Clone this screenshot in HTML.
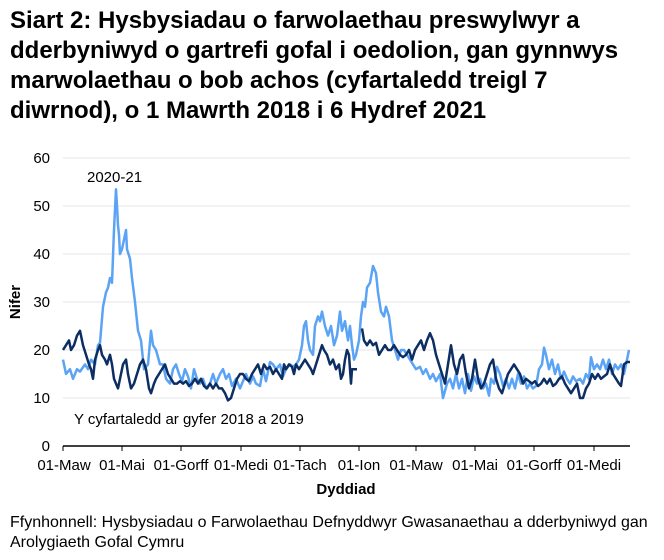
<!DOCTYPE html>
<html><head><meta charset="utf-8"><style>
body{margin:0;background:#fff;width:664px;height:560px;overflow:hidden;font-family:"Liberation Sans",Arial,sans-serif;}
.t{position:absolute;left:10px;top:6px;font-weight:bold;font-size:24px;line-height:30px;color:#000;width:620px;}
.f{position:absolute;left:10px;top:513px;font-size:16px;line-height:20px;color:#000;white-space:nowrap;}
svg{position:absolute;left:0;top:0;}
</style></head><body>
<div class="t">Siart 2: Hysbysiadau o farwolaethau preswylwyr a dderbyniwyd o gartrefi gofal i oedolion, gan gynnwys marwolaethau o bob achos (cyfartaledd treigl 7 diwrnod), o 1 Mawrth 2018 i 6 Hydref 2021</div>
<svg width="664" height="560" id="s" font-family="Liberation Sans, Arial, sans-serif">
<g stroke="#e6e6e6" stroke-width="1">
<line x1="63" x2="630" y1="158" y2="158"/><line x1="63" x2="630" y1="206" y2="206"/><line x1="63" x2="630" y1="254" y2="254"/><line x1="63" x2="630" y1="302" y2="302"/><line x1="63" x2="630" y1="350" y2="350"/><line x1="63" x2="630" y1="398" y2="398"/>
</g>
<g font-size="15" fill="#000" text-anchor="end">
<text x="50" y="163">60</text><text x="50" y="211">50</text><text x="50" y="259">40</text><text x="50" y="307">30</text><text x="50" y="355">20</text><text x="50" y="403">10</text><text x="50" y="451">0</text>
</g>
<text transform="translate(20,302) rotate(-90)" font-size="15" font-weight="bold" text-anchor="middle">Nifer</text>
<line x1="63" x2="630" y1="446" y2="446" stroke="#000" stroke-width="1.5"/>
<g stroke="#000" id="tk"></g>
<g font-size="15" text-anchor="middle">
<text x="64" y="470">01-Maw</text><text x="122" y="470">01-Mai</text><text x="181" y="470">01-Gorff</text><text x="241" y="470">01-Medi</text><text x="300" y="470">01-Tach</text><text x="359" y="470">01-Ion</text><text x="416" y="470">01-Maw</text><text x="475" y="470">01-Mai</text><text x="534" y="470">01-Gorff</text><text x="594" y="470">01-Medi</text>
</g>
<text x="346" y="494" font-size="15" font-weight="bold" text-anchor="middle">Dyddiad</text>
<text x="87" y="182" font-size="15">2020-21</text>
<text x="74" y="424" font-size="15">Y cyfartaledd ar gyfer 2018 a 2019</text>
<polyline id="l" fill="none" stroke="#5ba3f5" stroke-width="2.5" stroke-linejoin="round"/>
<polyline id="d1" fill="none" stroke="#0d2e63" stroke-width="2.5" stroke-linejoin="round"/>
<polyline id="d2" fill="none" stroke="#0d2e63" stroke-width="2.5" stroke-linejoin="round"/>
</svg>
<div class="f">Ffynhonnell: Hysbysiadau o Farwolaethau Defnyddwyr Gwasanaethau a dderbyniwyd gan<br>Arolygiaeth Gofal Cymru</div>
<script>
function P(a){var s=[];for(var i=0;i<a.length;i+=2)s.push(a[i]+","+(446-4.8*a[i+1]).toFixed(1));return s.join(" ");}
var L=[63,18,66,15,70,16,73,14,77,16,80,15.5,85,17,88,16,91,18,95,17,98,21,100,21.5,103,29,106,32,108,33,110,35,112,34,114,45,116,53.5,117,50,118,46,119,44,120,40,122,41,124,43,126,45,127,41,130,39,132,35,135,30,138,24,141,22,144,16,148,17,151,24,153,21,156,20,160,17,163,17,166,14,170,13,173,16,176,17,179,15,182,13.5,185,16,188,14.5,191,12,194,16,197,14,200,13,203,14,206,12,210,13,213,15,216,13,220,15,223,16,226,14,229,15,232,12.5,236,14,240,12,243,13.5,246,15,250,13,253,14.5,256,13,260,12.5,263,16,266,13.5,270,17.5,273,17,276,16,280,17,283,14.5,286,16,290,17,293,16.5,296,17,299,18,302,21,304,25,306,26,308,22,310,20,313,19,315,25,318,27,320,26,322,28,325,25,328,23,331,25,334,21,337,23,340,28,342,24,345,26,348,22,350,25,352,21,354,18,356,19,359,22,361,27,363,30,365,29,367,33,370,34,373,37.5,376,36,378,32,381,28,384,27,386,29,389,27,392,22,395,20,398,18,401,20,404,20,407,19,410,18,413,17,416,16,420,16.5,423,15,426,16,430,14,433,15,436,13.5,440,15,443,10,447,13,450,14,453,12,456,15,459,12,462,14,465,11,468,15,471,11.5,474,14.5,477,13,480,14,483,12,486,13,489,10.5,491,14,494,13,497,16.5,500,15,503,12.5,506,14,509,12,512,14,515,12,518,15,521,13,524,14.5,527,12,530,13,533,12,536,12.5,539,16,542,17,544,20.5,546,19,549,16,552,18,555,15,558,17,561,14,564,15.5,567,14,570,13,573,14.5,576,13.5,580,14,583,13,586,15,589,14,591,18.5,594,16,597,17,600,16,603,18,606,16,609,18,612,15,615,17,618,16,621,17,624,15,627,18,629,20];
var D1=[63,20,66,21,69,22,71,20,74,21,77,23,80,24,83,21,86,19,89,17,91,16,93,14,95,18,98,20,100,21,102,19,105,18,107,17,110,19,112,17,114,14,116,13,118,12,120,14,123,17,126,18,128,15,131,12,134,13,137,15,140,17,143,18,146,16,149,12,151,11,154,13,156,14,159,15,162,16,165,17,168,15,171,14,174,13,177,13,180,13.5,183,13,186,13.5,189,12.5,192,13,195,14,198,13,201,14,204,12.5,207,12,210,13,213,12,216,13,219,12,222,12,225,11,228,9.5,231,10,234,12,237,14,240,15,243,15,246,14,249,13.5,252,15,255,16,258,17,261,15,264,17,267,16,270,16.5,273,15,276,16,279,15,282,14,284,17,286,16,289,17,292,16.5,294,15,296,17,299,16,302,17,305,18,308,17,311,16,313,15,316,17,319,19,322,21,324,20,327,19,330,17,333,18,336,16,339,17,341,14,343,15,345,18,347,20,349,19,351,13,352,16,355,16,357,16];
var D2=[362,24.5,364,22,367,21,370,22,373,21,376,21.5,379,19,382,20,385,21,388,20,391,20,394,21,397,20,400,19,403,18.5,406,19,409,20,412,18,415,20,418,21,421,22,424,20,427,22,430,23.5,433,22,436,19,439,17,442,15,445,13,448,17,451,21,454,17,457,15,460,18,463,19,466,15,469,12,472,14,475,18,478,14,481,12,484,13,487,15,490,17,493,18,496,14,499,12,502,11,505,13,508,15,511,16,514,17,517,16,520,15,523,13,526,14,529,13.5,532,13,535,13.5,538,12.5,541,13,544,14,547,13,550,14,553,12.5,556,13,559,14,562,14.5,565,13,568,12,571,11,574,12,577,13,580,10,583,10,586,12,589,13,592,15,595,14,598,15,601,14,604,14.5,607,15,610,17,613,15,616,14,619,13,621,12.5,624,17,627,17.5,630,17.5];
document.getElementById("l").setAttribute("points",P(L));
document.getElementById("d1").setAttribute("points",P(D1));
document.getElementById("d2").setAttribute("points",P(D2));
var tk=document.getElementById("tk"),xs=[63,122,181,241,300,359,416,475,534,594];
xs.forEach(function(x){var l=document.createElementNS("http://www.w3.org/2000/svg","line");l.setAttribute("x1",x);l.setAttribute("x2",x);l.setAttribute("y1",446);l.setAttribute("y2",451);tk.appendChild(l);});
</script>
</body></html>
